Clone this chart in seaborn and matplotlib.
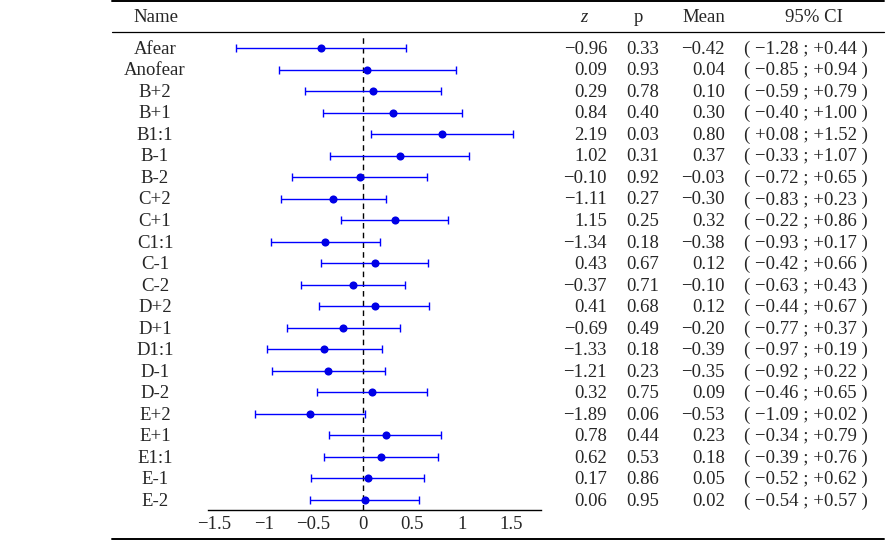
import numpy as np
import pandas as pd
import matplotlib
matplotlib.use("Agg")
import matplotlib.pyplot as plt
import matplotlib.transforms as mtransforms
import seaborn as sns

# ------------------------------------------------------------------------------
# DATA
# ------------------------------------------------------------------------------
names = ['Afear', 'Anofear', 'B+2', 'B+1', 'B1:1', 'B-1', 'B-2',
         'C+2', 'C+1', 'C1:1', 'C-1', 'C-2',
         'D+2', 'D+1', 'D1:1', 'D-1', 'D-2',
         'E+2', 'E+1', 'E1:1', 'E-1', 'E-2']
z_vals = [-0.96, 0.09, 0.29, 0.84, 2.19, 1.02, -0.10, -1.11, 1.15, -1.34, 0.43,
          -0.37, 0.41, -0.69, -1.33, -1.21, 0.32, -1.89, 0.78, 0.62, 0.17, 0.06]
p_vals = [0.33, 0.93, 0.78, 0.40, 0.03, 0.31, 0.92, 0.27, 0.25, 0.18, 0.67,
          0.71, 0.68, 0.49, 0.18, 0.23, 0.75, 0.06, 0.44, 0.53, 0.86, 0.95]
means = [-0.42, 0.04, 0.10, 0.30, 0.80, 0.37, -0.03, -0.30, 0.32, -0.38, 0.12,
         -0.10, 0.12, -0.20, -0.39, -0.35, 0.09, -0.53, 0.23, 0.18, 0.05, 0.02]
ci_low = [-1.28, -0.85, -0.59, -0.40, 0.08, -0.33, -0.72, -0.83, -0.22, -0.93, -0.42,
          -0.63, -0.44, -0.77, -0.97, -0.92, -0.46, -1.09, -0.34, -0.39, -0.52, -0.54]
ci_high = [0.44, 0.94, 0.79, 1.00, 1.52, 1.07, 0.65, 0.23, 0.86, 0.17, 0.66,
           0.43, 0.67, 0.37, 0.19, 0.22, 0.65, 0.02, 0.79, 0.76, 0.62, 0.57]
x_ticks = [-1.5, -1, -0.5, 0, 0.5, 1, 1.5]

df = pd.DataFrame({'Name': names, 'z': z_vals, 'p': p_vals, 'Mean': means,
                   'lo': ci_low, 'hi': ci_high})
df['row'] = np.arange(len(df))

# ------------------------------------------------------------------------------
# STYLE
# ------------------------------------------------------------------------------
sns.set_theme(style="white")
plt.rcParams['font.family'] = ['Liberation Serif', 'DejaVu Serif']
FS = 13.5
W, H = 888, 540
ROW_PX = (500 - 48) / 21.0   # pixel distance between rows
BASE = 5.8 / ROW_PX          # baseline offset (data units) below row centre

def fx(px):
    return px / W

def fy(py):
    return 1 - py / H

def num(v, sign=False):
    s = f'{v:+.2f}' if sign else f'{v:.2f}'
    return s.replace('-', '\u2212')

fig = plt.figure(figsize=(8.88, 5.40), dpi=100)
ax = fig.add_axes([fx(208), fy(510), fx(541) - fx(208), fy(34) - fy(510)])

# error bars (95% CI) and mean points
ax.errorbar(df['Mean'], df['row'],
            xerr=[df['Mean'] - df['lo'], df['hi'] - df['Mean']],
            fmt='none', ecolor='#0000ff', elinewidth=1.0, capsize=3, capthick=1.0)
sns.scatterplot(data=df, x='Mean', y='row', ax=ax, color='#0000e6', s=34,
                edgecolor='#0000e6', linewidth=0, zorder=3)
ax.axvline(0, color='black', linestyle=(0, (4, 3)), linewidth=1.0, zorder=1)

ax.set_xlim(-1.566, 1.80)
ax.set_ylim((510 - 48) / ROW_PX, -(48 - 34) / ROW_PX)
ax.set_xticks(x_ticks)
ax.set_xticklabels(['\u22121.5', '\u22121', '\u22120.5', '0', '0.5', '1', '1.5'],
                   fontsize=FS)
ax.set_yticks([])
ax.set_xlabel('')
ax.set_ylabel('')
ax.tick_params(axis='x', length=0, pad=4)
for side in ['top', 'left', 'right']:
    ax.spines[side].set_visible(False)
ax.spines['bottom'].set_linewidth(1.0)
ax.spines['bottom'].set_color('black')
ax.patch.set_alpha(0)

# table columns (figure x, data y)
trans = mtransforms.blended_transform_factory(fig.transFigure, ax.transData)
for i, r in df.iterrows():
    y = r['row'] + BASE
    kw = dict(transform=trans, va='baseline', fontsize=FS, clip_on=False)
    ax.text(fx(155), y, r['Name'], ha='center', **kw)
    ax.text(fx(607), y, num(r['z']), ha='right', **kw)
    ax.text(fx(643), y, num(r['p']), ha='center', **kw)
    ax.text(fx(725), y, num(r['Mean']), ha='right', **kw)
    ax.text(fx(806), y, f"( {num(r['lo'], True)} ; {num(r['hi'], True)} )",
            ha='center', **kw)

# header
hy = fy(21.5)
hkw = dict(ha='center', va='baseline', fontsize=FS)
fig.text(fx(156), hy, 'Name', **hkw)
fig.text(fx(584), hy, 'z', style='italic', **hkw)
fig.text(fx(638), hy, 'p', **hkw)
fig.text(fx(704), hy, 'Mean', **hkw)
fig.text(fx(814), hy, '95% CI', **hkw)

# booktabs-like rules
for py, lw in [(1.2, 1.4), (32, 0.9), (538.8, 1.4)]:
    fig.add_artist(plt.Line2D([fx(112), fx(884)], [fy(py), fy(py)],
                              color='black', linewidth=lw))

fig.savefig('out.png', dpi=100)
